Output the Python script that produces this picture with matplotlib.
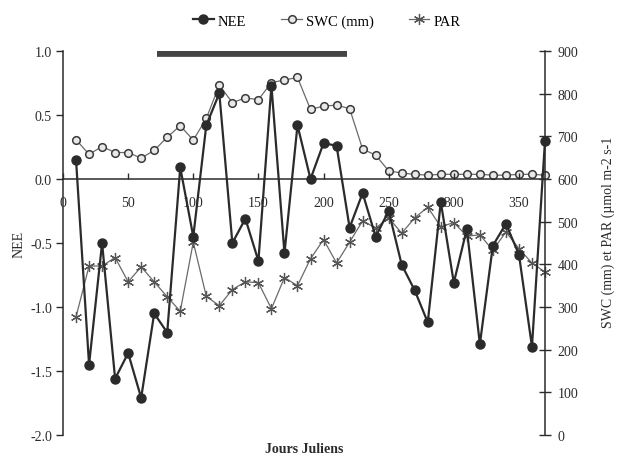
import numpy as np
import matplotlib
matplotlib.use("Agg")
import matplotlib.pyplot as plt

plt.rcParams['font.family'] = ['Liberation Serif', 'DejaVu Serif']

# jours juliens (un point tous les 10 jours)
jours = [10, 20, 30, 40, 50, 60, 70, 80, 90, 100, 110, 120, 130, 140, 150, 160, 170, 180,
         190, 200, 210, 220, 230, 240, 250, 260, 270, 280, 290, 300, 310, 320, 330, 340,
         350, 360, 370]

nee = [0.15, -1.45, -0.50, -1.56, -1.36, -1.71, -1.05, -1.20, 0.09, -0.45, 0.42, 0.67,
       -0.50, -0.31, -0.64, 0.73, -0.58, 0.42, 0.00, 0.28, 0.26, -0.38, -0.11, -0.45,
       -0.25, -0.67, -0.87, -1.12, -0.18, -0.81, -0.39, -1.29, -0.52, -0.35, -0.59,
       -1.31, 0.30]

swc = [692, 658, 676, 662, 662, 649, 667, 698, 725, 691, 742, 820, 779, 790, 786, 826,
       832, 838, 763, 771, 773, 765, 670, 656, 619, 614, 611, 609, 611, 611, 611, 611,
       609, 609, 611, 611, 609]

par = [277, 396, 396, 416, 359, 394, 359, 324, 290, 452, 325, 303, 341, 359, 357, 296,
       369, 350, 413, 458, 403, 452, 502, 485, 509, 473, 509, 534, 488, 498, 466, 469,
       433, 476, 437, 403, 382]

# période marquée par la barre noire
barre_debut, barre_fin, barre_niveau = 72, 218, 0.99

xticks = [0, 50, 100, 150, 200, 250, 300, 350]
yticks_nee = [1.0, 0.5, 0.0, -0.5, -1.0, -1.5, -2.0]
yticks_droite = [0, 100, 200, 300, 400, 500, 600, 700, 800, 900]

fig = plt.figure(figsize=(6.17, 4.56), dpi=100)
ax = fig.add_axes([63 / 617, 1 - 436 / 456, 482 / 617, 384 / 456])
ax2 = ax.twinx()

noir = '#2b2b2b'
gris = '#6a6a6a'

l_swc, = ax2.plot(jours, swc, color=gris, lw=0.9, marker='o', ms=5.5,
                  mfc='#e8e8e8', mec='#3a3a3a', mew=1.1, label='SWC (mm)', clip_on=False)
l_par, = ax2.plot(jours, par, color=gris, lw=0.9, marker=(6, 2, 0), ms=8,
                  mec='#555555', mew=0.9, label='PAR', clip_on=False)
l_nee, = ax.plot(jours, nee, color=noir, lw=1.6, marker='o', ms=6.5,
                 mfc=noir, mec=noir, label='NEE', clip_on=False)

ax.hlines(barre_niveau, barre_debut, barre_fin, color='#444444', lw=7, zorder=5)

ax.set_zorder(ax2.get_zorder() + 1)
ax.patch.set_visible(False)

ax.set_xlim(0, 370)
ax.set_ylim(-2.0, 1.0)
ax2.set_ylim(0, 900)

for a in (ax, ax2):
    a.spines['top'].set_visible(False)
ax2.spines['bottom'].set_visible(False)
ax.spines['right'].set_visible(False)
ax2.spines['left'].set_visible(False)
ax.spines['bottom'].set_position(('data', 0))
for s in ('left', 'bottom'):
    ax.spines[s].set_color(noir)
    ax.spines[s].set_linewidth(1.1)
ax2.spines['right'].set_color(noir)
ax2.spines['right'].set_linewidth(1.1)

ax.set_xticks(xticks)
ax.set_yticks(yticks_nee)
ax.set_yticklabels(['%.1f' % v for v in yticks_nee])
ax2.set_yticks(yticks_droite)

ax.tick_params(axis='x', direction='in', length=4, width=1, pad=12, labelsize=10, colors=noir)
ax.tick_params(axis='y', direction='out', length=5, width=1, pad=3, labelsize=10, colors=noir)
ax2.tick_params(axis='y', direction='inout', length=8, width=1, pad=5, labelsize=10, colors=noir)

ax.set_ylabel('NEE', fontsize=10, color=noir)
ax.yaxis.set_label_coords(-0.078, 0.5)
ax.set_xlabel('Jours Juliens', fontsize=10, color=noir, fontweight='bold')
ax.xaxis.set_label_coords(0.5, -0.018)
ax2.set_ylabel('SWC (mm) et PAR (\u00b5mol m-2 s-1', fontsize=10, color=noir)
ax2.yaxis.set_label_coords(1.118, 0.53)

fig.legend(handles=[l_nee, l_swc, l_par], loc='center', bbox_to_anchor=(327 / 617, 1 - 22 / 456),
           ncol=3, frameon=False, fontsize=10.5, handlelength=1.4, handletextpad=0.3,
           columnspacing=2.4)

fig.savefig('out.png', dpi=100)
